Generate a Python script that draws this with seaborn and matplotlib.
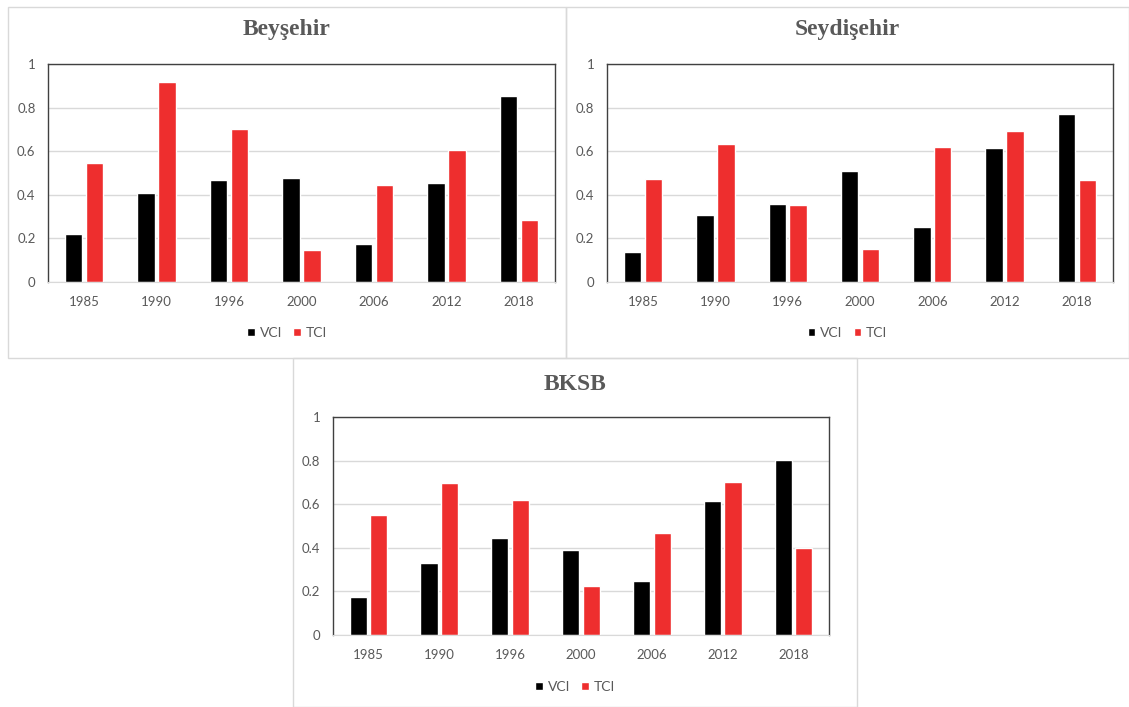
import pandas as pd
import matplotlib.pyplot as plt
import seaborn as sns
from matplotlib.patches import Rectangle

years = ['1985', '1990', '1996', '2000', '2006', '2012', '2018']

beysehir_vci = [0.22, 0.41, 0.467, 0.478, 0.175, 0.456, 0.854]
beysehir_tci = [0.545, 0.916, 0.704, 0.147, 0.444, 0.606, 0.286]

seydisehir_vci = [0.139, 0.309, 0.36, 0.507, 0.254, 0.613, 0.77]
seydisehir_tci = [0.473, 0.631, 0.355, 0.153, 0.619, 0.691, 0.467]

bksb_vci = [0.175, 0.332, 0.444, 0.389, 0.248, 0.613, 0.804]
bksb_tci = [0.551, 0.698, 0.619, 0.225, 0.467, 0.703, 0.400]

titles = ['Beyşehir', 'Seydişehir', 'BKSB']
series = [(beysehir_vci, beysehir_tci), (seydisehir_vci, seydisehir_tci), (bksb_vci, bksb_tci)]

sns.set_style("white")
plt.rcParams['font.family'] = ['Lato', 'DejaVu Sans']

W, H = 1129, 707
fig = plt.figure(figsize=(W / 100, H / 100), dpi=100)

# panel frames (pixels: x0, y0, x1, y1), axes boxes, title y, legend y
panels = [(8, 7, 566, 358), (566, 7, 1129, 358), (293, 358, 857, 707)]
axboxes = [(48, 64, 555, 282), (607, 64, 1113, 282), (333, 417, 829, 635)]
title_y = [30, 30, 384]
legend_y = [333, 333, 687]

palette = {'VCI': '#000000', 'TCI': '#EE2E2E'}
grey = '#595959'

for i in range(3):
    x0, y0, x1, y1 = panels[i]
    fig.add_artist(Rectangle((x0 / W, 1 - y1 / H), (x1 - x0) / W, (y1 - y0) / H,
                             transform=fig.transFigure, fill=False,
                             edgecolor='#D9D9D9', lw=1))
    ax0, ay0, ax1, ay1 = axboxes[i]
    ax = fig.add_axes([ax0 / W, 1 - ay1 / H, (ax1 - ax0) / W, (ay1 - ay0) / H])

    vci, tci = series[i]
    df = pd.DataFrame({'year': years * 2,
                       'value': vci + tci,
                       'index': ['VCI'] * 7 + ['TCI'] * 7})
    sns.barplot(data=df, x='year', y='value', hue='index', palette=palette,
                width=0.58, gap=0.17, saturation=1, ax=ax)

    ax.set_ylim(0, 1)
    ax.set_xlim(-0.5, 6.5)
    ax.set_yticks([0, 0.2, 0.4, 0.6, 0.8, 1])
    ax.set_yticklabels(['0', '0.2', '0.4', '0.6', '0.8', '1'])
    ax.set_xlabel('')
    ax.set_ylabel('')
    ax.yaxis.grid(True, color='#D9D9D9', lw=1)
    ax.set_axisbelow(True)
    ax.tick_params(axis='both', length=0, labelsize=9.5, labelcolor=grey)
    ax.tick_params(axis='y', pad=9)
    ax.tick_params(axis='x', pad=10)
    for s in ['top', 'left', 'right']:
        ax.spines[s].set_color('#404040')
        ax.spines[s].set_linewidth(1)
    ax.spines['bottom'].set_color('#D9D9D9')

    cx = (x0 + x1) / 2 / W
    fig.text(cx, 1 - title_y[i] / H, titles[i], ha='center', va='center',
             fontsize=17, fontweight='bold', color=grey,
             family=['Liberation Serif', 'DejaVu Serif'])

    sns.move_legend(ax, 'center', bbox_to_anchor=(cx, 1 - legend_y[i] / H),
                    bbox_transform=fig.transFigure, ncol=2, frameon=False,
                    title=None, fontsize=10, handlelength=0.55, handleheight=0.55,
                    handletextpad=0.35, columnspacing=0.8, labelcolor=grey)

fig.savefig('out.png', dpi=100)
